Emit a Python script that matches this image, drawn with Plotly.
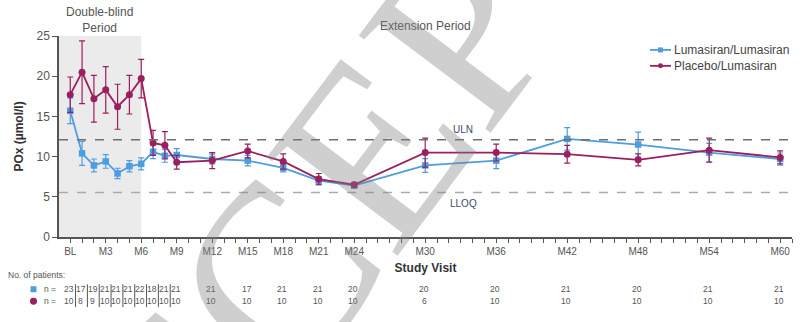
import plotly.graph_objects as go

# ---- data -------------------------------------------------------------
months = [0, 1, 2, 3, 4, 5, 6, 7, 8, 9, 12, 15, 18, 21, 24, 30, 36, 42, 48, 54, 60]

lum_mean = [15.7, 10.4, 8.9, 9.4, 7.9, 8.8, 9.1, 10.6, 10.1, 10.2,
            9.7, 9.5, 8.6, 7.0, 6.4, 8.9, 9.5, 12.2, 11.5, 10.5, 9.7]
lum_sem = [1.6, 1.5, 0.8, 0.85, 0.65, 0.7, 0.75, 0.85, 0.8, 0.8,
           0.6, 0.65, 0.5, 0.5, 0.3, 0.85, 1.0, 1.4, 1.55, 1.15, 0.75]

pbo_mean = [17.7, 20.5, 17.2, 18.3, 16.2, 17.7, 19.7, 11.7, 11.4, 9.3,
            9.5, 10.7, 9.4, 7.2, 6.5, 10.5, 10.5, 10.3, 9.6, 10.8, 9.9]
pbo_sem = [2.2, 3.9, 2.9, 2.9, 2.8, 2.4, 2.4, 1.55, 1.7, 0.85,
           1.0, 0.85, 0.95, 0.7, 0.3, 1.8, 1.05, 1.1, 0.75, 1.5, 0.8]

lum_n = [23, 17, 19, 21, 21, 21, 22, 18, 21, 21, 21, 17, 21, 21, 20, 20, 20, 21, 20, 21, 21]
pbo_n = [10, 8, 9, 10, 10, 10, 10, 10, 10, 10, 10, 10, 10, 10, 10, 6, 10, 10, 10, 10, 10]

tick_months = [0, 3, 6, 9, 12, 15, 18, 21, 24, 30, 36, 42, 48, 54, 60]
tick_labels = ["BL", "M3", "M6", "M9", "M12", "M15", "M18", "M21", "M24",
               "M30", "M36", "M42", "M48", "M54", "M60"]

series_names = ["Lumasiran/Lumasiran", "Placebo/Lumasiran"]

ULN = 12.11
LLOQ = 5.55

# ---- styling ----------------------------------------------------------
BLUE = "#4d9de0"
PURPLE = "#9b1e5f"
TXT = "#555555"
FONT = "Liberation Sans, Arial, sans-serif"

W, H = 809, 322
M_L, M_R, M_T, M_B = 59, 17, 35.5, 84.5
PLOT_W = W - M_L - M_R
PLOT_H = H - M_T - M_B


def py(px_y):
    """pixel row -> paper y"""
    return (H - M_B - px_y) / PLOT_H


def px(px_x):
    """pixel column -> paper x"""
    return (px_x - M_L) / PLOT_W


fig = go.Figure()

fig.add_trace(go.Scatter(
    x=months, y=lum_mean, name=series_names[0], mode="lines+markers",
    line=dict(color=BLUE, width=1.8),
    marker=dict(symbol="square", size=6.5, color=BLUE),
    error_y=dict(type="data", array=lum_sem, color=BLUE, thickness=1.2, width=3),
))
fig.add_trace(go.Scatter(
    x=months, y=pbo_mean, name=series_names[1], mode="lines+markers",
    line=dict(color=PURPLE, width=1.8),
    marker=dict(symbol="circle", size=7, color=PURPLE),
    error_y=dict(type="data", array=pbo_sem, color=PURPLE, thickness=1.2, width=3),
))

# double-blind shading
fig.add_shape(type="rect", xref="x", yref="y", x0=-0.95, x1=6, y0=0, y1=25,
              fillcolor="#ebebeb", line_width=0, layer="below")

# reference lines
fig.add_shape(type="line", xref="paper", yref="y", x0=0, x1=1, y0=ULN, y1=ULN,
              line=dict(color="#6e6e6e", width=1.5, dash="dash"))
fig.add_shape(type="line", xref="paper", yref="y", x0=0, x1=1, y0=LLOQ, y1=LLOQ,
              line=dict(color="#ababab", width=1.5, dash="dash"))

ann = []


def note(text, x, y, xref="paper", size=8, color=TXT, xanchor="center", **kw):
    ann.append(dict(text=text, x=x, y=y, xref=xref, yref=kw.pop("yref", "paper"),
                    xanchor=xanchor, yanchor="middle", showarrow=False,
                    font=dict(size=size, color=color, family=FONT), **kw))


note("ULN", 33.2, ULN + 1.3, xref="x", yref="y", size=10, color="#3b4a6b")
note("LLOQ", 33.2, LLOQ - 1.4, xref="x", yref="y", size=10, color="#3b4a6b")

note("Double-blind<br>Period", 2.5, py(19.5), xref="x", size=12)
note("Extension Period", 30.0, py(25), xref="x", size=12)

# legend drawn by hand
leg_rows = [49.5, 65.5]
leg_cols = [BLUE, PURPLE]
for name, col, ry, sym in zip(series_names, leg_cols, leg_rows, ["rect", "circle"]):
    fig.add_shape(type="line", xref="paper", yref="paper", x0=px(650), x1=px(671),
                  y0=py(ry), y1=py(ry), line=dict(color=col, width=1.8))
    fig.add_shape(type=sym, xref="paper", yref="paper", x0=px(658), x1=px(663),
                  y0=py(ry + 2.5), y1=py(ry - 2.5), fillcolor=col, line_width=0)
    note(name, px(672), py(ry), size=12, color="#444444", xanchor="left")

# patient counts table
note("No. of patients:", px(6), py(276), xanchor="left", size=8.5)
row_y = [py(290), py(302)]
for yy in row_y:
    note("n =", px(50), yy, size=8.5)
for m, a, b in zip(months, lum_n, pbo_n):
    note(str(a), m - 0.1, row_y[0], xref="x", size=8.5)
    note(str(b), m - 0.1, row_y[1], xref="x", size=8.5)
for k in range(9):
    fig.add_shape(type="line", xref="x", yref="paper", x0=k + 0.45, x1=k + 0.45,
                  y0=py(285), y1=py(308), line=dict(color="#555555", width=1))

# row markers of the table
fig.add_shape(type="rect", xref="paper", yref="paper", x0=px(30.5), x1=px(36.5),
              y0=py(293), y1=py(287), fillcolor=BLUE, line_width=0)
fig.add_shape(type="circle", xref="paper", yref="paper", x0=px(30), x1=px(37),
              y0=py(305.5), y1=py(298.5), fillcolor=PURPLE, line_width=0)

# watermark
ann.append(dict(x=px(405), y=py(105), xref="paper", yref="paper",
                text="ACCEPTED", showarrow=False, textangle=-53,
                xanchor="center", yanchor="middle",
                font=dict(size=250, color="rgba(130,130,130,0.38)",
                          family="Liberation Serif, Times New Roman, serif")))

fig.update_layout(
    width=W, height=H,
    margin=dict(l=M_L, r=M_R, t=M_T, b=M_B),
    paper_bgcolor="white", plot_bgcolor="white",
    font=dict(family=FONT, color=TXT),
    showlegend=False,
    annotations=ann,
)

fig.update_xaxes(
    range=[-0.95, 61], tickvals=tick_months, ticktext=tick_labels,
    showgrid=False, zeroline=False, showline=True, linecolor="#555555", linewidth=1.5,
    ticks="outside", ticklen=4, tickcolor="#555555", tickwidth=1,
    tickfont=dict(size=10, color="#555555"),
    minor=dict(dtick=1, tick0=0, ticks="outside", ticklen=4, tickcolor="#555555", tickwidth=1),
    title=dict(text="<b>Study Visit</b>", font=dict(size=12, color="#333333"), standoff=8),
)
fig.update_yaxes(
    range=[0, 25], tickvals=[0, 5, 10, 15, 20, 25],
    showgrid=False, zeroline=False, showline=True, linecolor="#555555", linewidth=1.5,
    ticks="outside", ticklen=5, tickcolor="#555555", tickwidth=1,
    tickfont=dict(size=12, color="#555555"),
    title=dict(text="<b>POx (µmol/l)</b>", font=dict(size=12, color="#333333"), standoff=10),
)

fig.write_html("out.html")
